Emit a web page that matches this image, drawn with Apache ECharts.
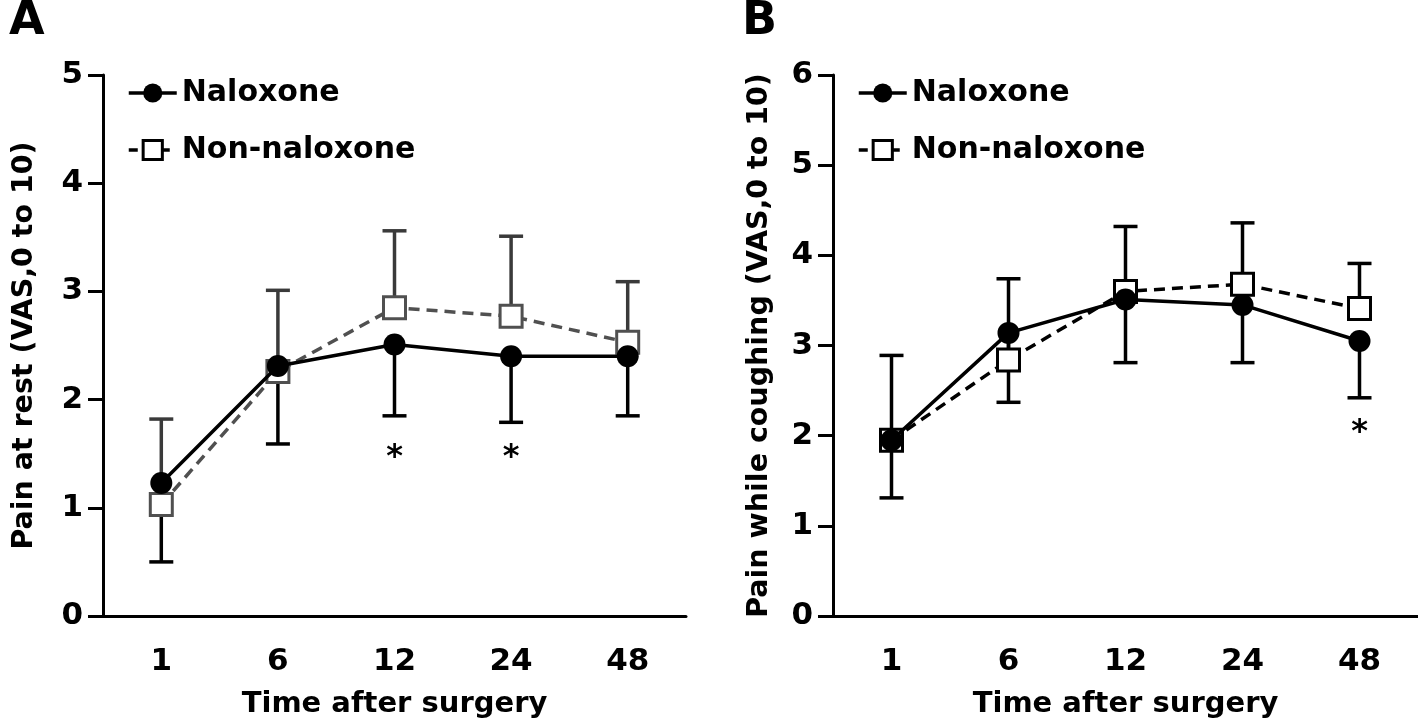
<!DOCTYPE html>
<html>
<head>
<meta charset="utf-8">
<script src="https://cdn.jsdelivr.net/npm/echarts@6/dist/echarts.min.js"></script>
<style>
html,body{margin:0;padding:0;background:#fff;}
#chart{width:1418px;height:724px;}
</style>
</head>
<body>
<div id="chart"></div>
<script>
// ---- data ----
var categories = ['1', '6', '12', '24', '48'];

// Panel A: pain at rest
var restNaloxone = [1.23, 2.31, 2.51, 2.40, 2.40];
var restNaloxoneLow = [0.50, 1.59, 1.85, 1.79, 1.85];
var restNonNaloxone = [1.03, 2.26, 2.85, 2.77, 2.53];
var restNonNaloxoneHigh = [1.82, 3.01, 3.56, 3.51, 3.09];
var restSig = [null, null, 1.46, 1.46, null];

// Panel B: pain while coughing
var coughNaloxone = [1.95, 3.14, 3.51, 3.45, 3.05];
var coughNaloxoneLow = [1.31, 2.37, 2.81, 2.81, 2.42];
var coughNonNaloxone = [1.95, 2.84, 3.60, 3.68, 3.41];
var coughNonNaloxoneHigh = [2.89, 3.74, 4.32, 4.36, 3.91];
var coughSig = [null, null, null, null, 2.03];

var yTicksA = [0, 5, 1];
var yTicksB = [0, 6, 1];

// ---- helpers ----
var FONT = 'DejaVu Sans';
function errData(mean, end) {
  return mean.map(function (m, i) { return [i, m, end[i]]; });
}
function sigData(arr) {
  var out = [];
  arr.forEach(function (v, i) { if (v != null) out.push([i, v]); });
  return out;
}
function errorSeries(name, gi, mean, end, color) {
  return {
    type: 'custom', name: name + ' SD', xAxisIndex: gi, yAxisIndex: gi, z: 1,
    silent: true,
    data: errData(mean, end),
    renderItem: function (params, api) {
      var p0 = api.coord([api.value(0), api.value(1)]);
      var p1 = api.coord([api.value(0), api.value(2)]);
      var hw = 12;
      return {
        type: 'group',
        children: [
          { type: 'line', shape: { x1: p0[0], y1: p0[1], x2: p1[0], y2: p1[1] }, style: { stroke: color, lineWidth: 3.5 } },
          { type: 'line', shape: { x1: p1[0] - hw, y1: p1[1], x2: p1[0] + hw, y2: p1[1] }, style: { stroke: color, lineWidth: 3.5 } }
        ]
      };
    }
  };
}
function sigSeries(gi, arr) {
  return {
    type: 'custom', name: 'sig', xAxisIndex: gi, yAxisIndex: gi, z: 5, silent: true,
    data: sigData(arr),
    renderItem: function (params, api) {
      var p = api.coord([api.value(0), api.value(1)]);
      return { type: 'text', x: p[0], y: p[1], style: { text: '*', font: 'bold 32px "' + FONT + '"', fill: '#000', align: 'center', verticalAlign: 'middle' } };
    }
  };
}
function lineSeries(name, gi, data, opts) {
  return {
    type: 'line', name: name, xAxisIndex: gi, yAxisIndex: gi, data: data,
    z: opts.z, symbol: opts.symbol, symbolSize: opts.size,
    showAllSymbol: true,
    lineStyle: { color: opts.color, width: 3.5, type: opts.dashed ? [11, 7] : 'solid' },
    itemStyle: { color: opts.fill, borderColor: opts.color, borderWidth: opts.borderWidth },
    emphasis: { disabled: true },
    animation: false
  };
}
function xAxis(gi) {
  return {
    type: 'category', gridIndex: gi, data: categories, boundaryGap: true,
    name: 'Time after surgery', nameLocation: 'middle', nameGap: 74,
    nameTextStyle: { fontFamily: FONT, fontWeight: 'bold', fontSize: 29, color: '#000' },
    axisLine: { lineStyle: { color: '#000', width: 3 } },
    axisTick: { alignWithLabel: true, length: 16, lineStyle: { color: '#000', width: 3 } },
    axisLabel: { fontFamily: FONT, fontWeight: 'bold', fontSize: 31, color: '#000', margin: 30 },
    splitLine: { show: false }
  };
}
function yAxis(gi, ticks, name, gap) {
  return {
    type: 'value', gridIndex: gi, min: ticks[0], max: ticks[1], interval: ticks[2],
    name: name, nameLocation: 'middle', nameRotate: 90, nameGap: gap,
    nameTextStyle: { fontFamily: FONT, fontWeight: 'bold', fontSize: 28.5, color: '#000' },
    axisLine: { show: true, lineStyle: { color: '#000', width: 3 } },
    axisTick: { show: true, length: 15, lineStyle: { color: '#000', width: 3 } },
    axisLabel: { fontFamily: FONT, fontWeight: 'bold', fontSize: 31, color: '#000', margin: 20 },
    splitLine: { show: false }
  };
}
function legend(left) {
  return {
    left: left, top: 73, orient: 'vertical', itemWidth: 48, itemHeight: 24, itemGap: 27,
    selectedMode: false,
    textStyle: { fontFamily: FONT, fontWeight: 'bold', fontSize: 30, color: '#000' },
    data: [
      { name: 'Naloxone', itemStyle: { color: '#000', borderColor: '#000', borderWidth: 0 }, lineStyle: { color: '#000', width: 3.5, type: 'solid' } },
      { name: 'Non-naloxone', itemStyle: { color: '#fff', borderColor: '#000', borderWidth: 3 }, lineStyle: { color: '#000', width: 3.5, type: [9, 7] } }
    ]
  };
}

var GRAY = '#505050';
var chart = echarts.init(document.getElementById('chart'), null, { renderer: 'canvas' });
chart.setOption({
  animation: false,
  backgroundColor: '#fff',
  title: [
    { text: 'A', left: 4, top: -6, textStyle: { fontFamily: FONT, fontWeight: 'bold', fontSize: 46, color: '#000' } },
    { text: 'B', left: 737, top: -6, textStyle: { fontFamily: FONT, fontWeight: 'bold', fontSize: 46, color: '#000' } }
  ],
  legend: [legend(122), legend(852)],
  grid: [
    { left: 103, top: 75, width: 583, height: 541 },
    { left: 833, top: 75, width: 585, height: 541 }
  ],
  xAxis: [xAxis(0), xAxis(1)],
  yAxis: [
    yAxis(0, yTicksA, 'Pain at rest (VAS,0 to 10)', 64),
    yAxis(1, yTicksB, 'Pain while coughing (VAS,0 to 10)', 59)
  ],
  series: [
    errorSeries('Non-naloxone', 0, restNonNaloxone, restNonNaloxoneHigh, '#3a3a3a'),
    errorSeries('Naloxone', 0, restNaloxone, restNaloxoneLow, '#000'),
    lineSeries('Non-naloxone', 0, restNonNaloxone, { z: 2, symbol: 'rect', size: 22, color: GRAY, fill: '#fff', borderWidth: 3, dashed: true }),
    lineSeries('Naloxone', 0, restNaloxone, { z: 3, symbol: 'circle', size: 22, color: '#000', fill: '#000', borderWidth: 0, dashed: false }),
    sigSeries(0, restSig),
    errorSeries('Non-naloxone', 1, coughNonNaloxone, coughNonNaloxoneHigh, '#000'),
    errorSeries('Naloxone', 1, coughNaloxone, coughNaloxoneLow, '#000'),
    lineSeries('Non-naloxone', 1, coughNonNaloxone, { z: 2, symbol: 'rect', size: 22, color: '#000', fill: '#fff', borderWidth: 3, dashed: true }),
    lineSeries('Naloxone', 1, coughNaloxone, { z: 3, symbol: 'circle', size: 22, color: '#000', fill: '#000', borderWidth: 0, dashed: false }),
    sigSeries(1, coughSig)
  ]
});
</script>
</body>
</html>
